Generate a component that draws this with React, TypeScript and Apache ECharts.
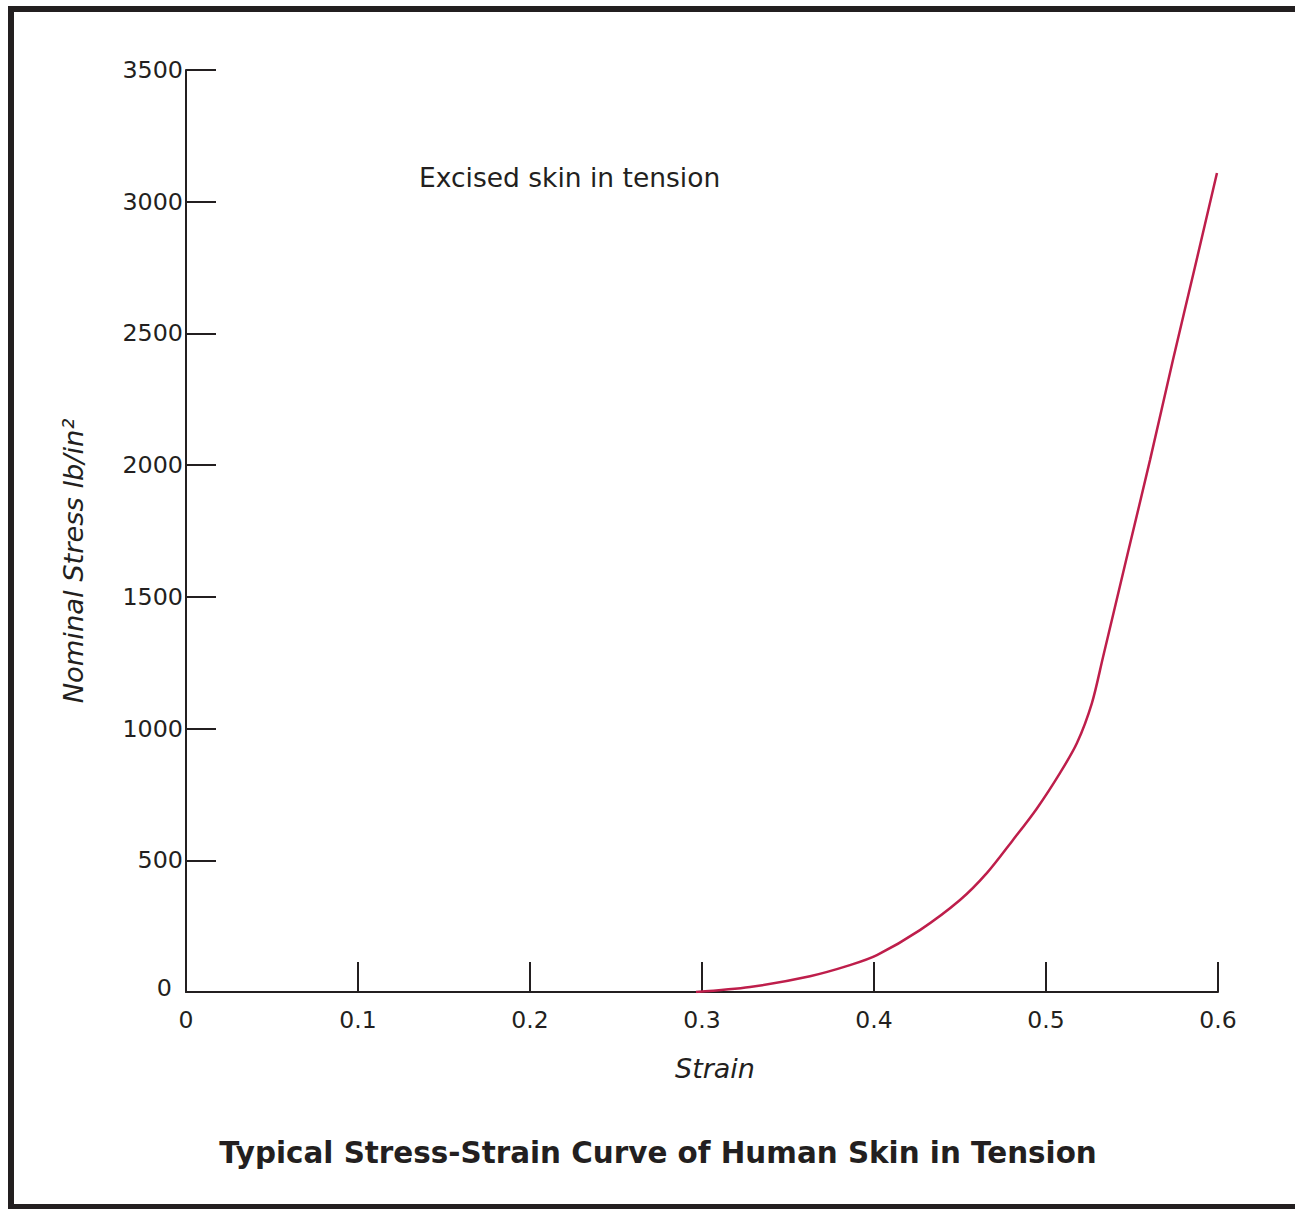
import React, { useEffect, useRef } from "react";
import * as echarts from "echarts";

const strain = [0.2965, 0.3279, 0.3628, 0.386, 0.4017, 0.4267, 0.45, 0.4657, 0.4808, 0.4945, 0.5081, 0.518, 0.5267, 0.5331, 0.5477, 0.5605, 0.5738, 0.5866, 0.5994];
const stress = [0, 19, 60, 102, 140, 235, 349, 452, 577, 695, 831, 945, 1097, 1270, 1670, 2020, 2399, 2752, 3109];

const xTicks = [0, 0.1, 0.2, 0.3, 0.4, 0.5, 0.6];
const yTicks = [0, 500, 1000, 1500, 2000, 2500, 3000, 3500];

const titleText = "Typical Stress-Strain Curve of Human Skin in Tension";
const noteText = "Excised skin in tension";
const xName = "Strain";
const yName = "Nominal Stress lb/in\u00B2";

const INK = "#231f20";
const FONT = "DejaVu Sans";

export default function App() {
  const ref = useRef<HTMLDivElement>(null);
  useEffect(() => {
    if (!ref.current) return;
    const chart = echarts.init(ref.current, undefined, { renderer: "svg" });
    chart.setOption({
      animation: false,
      backgroundColor: "#ffffff",
      grid: { left: 186, right: 77, top: 70, bottom: 217 },
      xAxis: {
        type: "value",
        min: xTicks[0],
        max: xTicks[xTicks.length - 1],
        interval: 0.1,
        axisLine: { show: true, lineStyle: { color: INK, width: 2 } },
        axisTick: { show: true, inside: true, length: 30, lineStyle: { color: INK, width: 2 } },
        axisLabel: {
          margin: 16,
          fontFamily: FONT,
          fontSize: 23.5,
          color: INK,
          formatter: (v: number) => (Math.abs(v) < 1e-9 ? "0" : v.toFixed(1)),
        },
        splitLine: { show: false },
      },
      yAxis: {
        type: "value",
        min: yTicks[0],
        max: yTicks[yTicks.length - 1],
        interval: 500,
        axisLine: { show: true, lineStyle: { color: INK, width: 2 } },
        axisTick: { show: true, inside: true, length: 30, lineStyle: { color: INK, width: 2 } },
        axisLabel: {
          margin: 3,
          fontFamily: FONT,
          fontSize: 23.8,
          color: INK,
          formatter: (v: number) => (v === 0 ? "{z|0}" : String(v)),
          rich: { z: { fontFamily: FONT, fontSize: 23.8, color: INK, padding: [0, 11, 8, 0] } },
        },
        splitLine: { show: false },
      },
      series: [
        {
          type: "line",
          data: strain.map((s, i) => [s, stress[i]]),
          showSymbol: false,
          smooth: 0.3,
          lineStyle: { color: "#be1e4b", width: 2.5 },
          z: 3,
        },
      ],
      graphic: [
        {
          type: "rect",
          shape: { x: 11, y: 9, width: 1300, height: 1198 },
          style: { fill: "none", stroke: INK, lineWidth: 6 },
          silent: true,
        },
        {
          type: "text",
          x: 73,
          y: 561,
          rotation: Math.PI / 2,
          style: {
            text: yName,
            fontFamily: FONT,
            fontSize: 27.3,
            fontStyle: "italic",
            fill: INK,
            align: "center",
            verticalAlign: "middle",
          },
        },
        {
          type: "text",
          x: 715,
          y: 1068,
          style: {
            text: xName,
            fontFamily: FONT,
            fontSize: 27,
            fontStyle: "italic",
            fill: INK,
            align: "center",
            verticalAlign: "middle",
          },
        },
        {
          type: "text",
          x: 419,
          y: 177,
          style: {
            text: noteText,
            fontFamily: FONT,
            fontSize: 26.5,
            fill: INK,
            align: "left",
            verticalAlign: "middle",
          },
        },
        {
          type: "text",
          x: 658,
          y: 1153,
          style: {
            text: titleText,
            fontFamily: FONT,
            fontSize: 29.4,
            fontWeight: "bold",
            fill: INK,
            align: "center",
            verticalAlign: "middle",
          },
        },
      ],
    });
    return () => chart.dispose();
  }, []);
  return (
    <div
      ref={ref}
      style={{ position: "fixed", left: 0, top: 0, width: 1295, height: 1209 }}
    />
  );
}
